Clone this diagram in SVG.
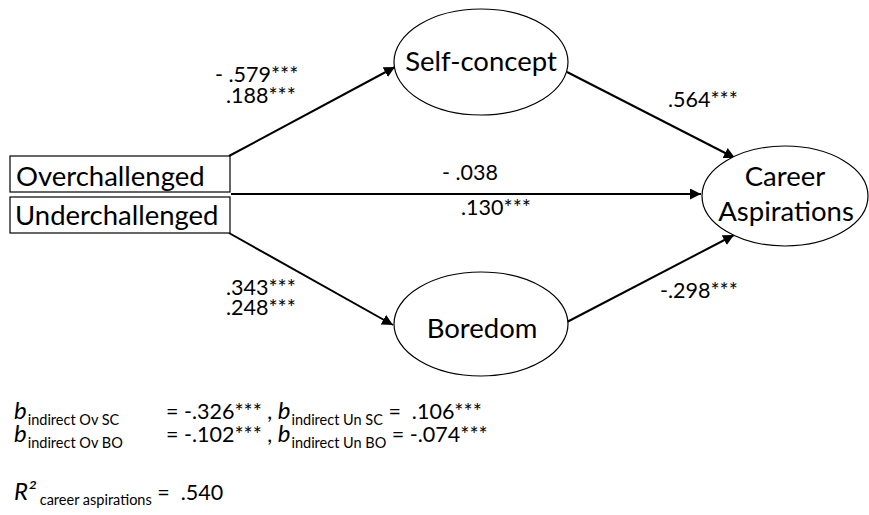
<svg xmlns="http://www.w3.org/2000/svg" width="869" height="515" viewBox="0 0 869 515">
<defs>
<marker id="ah" viewBox="0 0 10 10" refX="10" refY="5" markerWidth="5.5" markerHeight="5.5" orient="auto" markerUnits="strokeWidth">
<path d="M0,0 L10,5 L0,10 z" fill="#000"/>
</marker>
</defs>
<style>
text{font-family:Lato,"Liberation Sans",sans-serif;fill:#000}
.node{fill:#fff;stroke:#000;stroke-width:1.2}
.lbl{font-size:27.5px}
.num{font-size:21.5px}
.conn{stroke:#000;stroke-width:2;fill:none;marker-end:url(#ah)}
.sub{font-size:14.5px}
.eq{font-size:21.5px}
.it{font-style:italic;font-size:24px}
</style>
<rect width="869" height="515" fill="#fff"/>
<g id="connectors">
<line class="conn" x1="229" y1="156" x2="395" y2="67"/>
<line class="conn" x1="567" y1="72" x2="735" y2="158"/>
<line class="conn" x1="231" y1="194" x2="701" y2="194"/>
<line class="conn" x1="229" y1="233" x2="393" y2="325"/>
<line class="conn" x1="567" y1="322" x2="734" y2="235"/>
</g>
<g id="overchallenged">
<rect class="node" x="10" y="156" width="220" height="36"/>
<text class="lbl" x="16" y="186">Overchallenged</text>
</g>
<g id="underchallenged">
<rect class="node" x="10" y="197" width="220" height="36"/>
<text class="lbl" x="15" y="225">Underchallenged</text>
</g>
<g id="self-concept">
<ellipse class="node" cx="481" cy="62" rx="87" ry="53"/>
<text class="lbl" x="481" y="71" text-anchor="middle" font-size="28.5">Self-concept</text>
</g>
<g id="boredom">
<ellipse class="node" cx="481" cy="324" rx="87" ry="52"/>
<text class="lbl" x="482" y="338" text-anchor="middle" font-size="28.5">Boredom</text>
</g>
<g id="career-aspirations">
<ellipse class="node" cx="785" cy="196" rx="83" ry="50"/>
<text class="lbl" x="785" y="186" text-anchor="middle" font-size="30">Career</text>
<text class="lbl" x="786" y="221" text-anchor="middle" font-size="30">Aspirations</text>
</g>
<g id="path-labels">
<text class="num" x="215" y="82">- .579***</text>
<text class="num" x="226" y="103">.188***</text>
<text class="num" x="668" y="107">.564***</text>
<text class="num" x="470" y="180" text-anchor="middle">- .038</text>
<text class="num" x="496" y="215" text-anchor="middle">.130***</text>
<text class="num" x="226" y="295">.343***</text>
<text class="num" x="226" y="315">.248***</text>
<text class="num" x="660" y="298">-.298***</text>
</g>
<g id="notes">
<text class="eq" x="14" y="419"><tspan class="it">b</tspan><tspan class="sub" dx="1" dy="6">indirect Ov SC</tspan></text>
<text class="eq" x="166" y="419">= -.326*** , <tspan class="it">b</tspan><tspan class="sub" dx="1" dy="6">indirect Un SC</tspan><tspan dy="-6"> = &#160;.106***</tspan></text>
<text class="eq" x="14" y="442"><tspan class="it">b</tspan><tspan class="sub" dx="1" dy="6">indirect Ov BO</tspan></text>
<text class="eq" x="166" y="442">= -.102*** , <tspan class="it">b</tspan><tspan class="sub" dx="1" dy="6">indirect Un BO</tspan><tspan dy="-6"> = -.074***</tspan></text>
<text class="eq" x="14" y="500"><tspan class="it" font-size="23">R²</tspan><tspan class="sub" dy="5"> career aspirations</tspan><tspan dy="-5"> = &#160;.540</tspan></text>
</g>
</svg>
